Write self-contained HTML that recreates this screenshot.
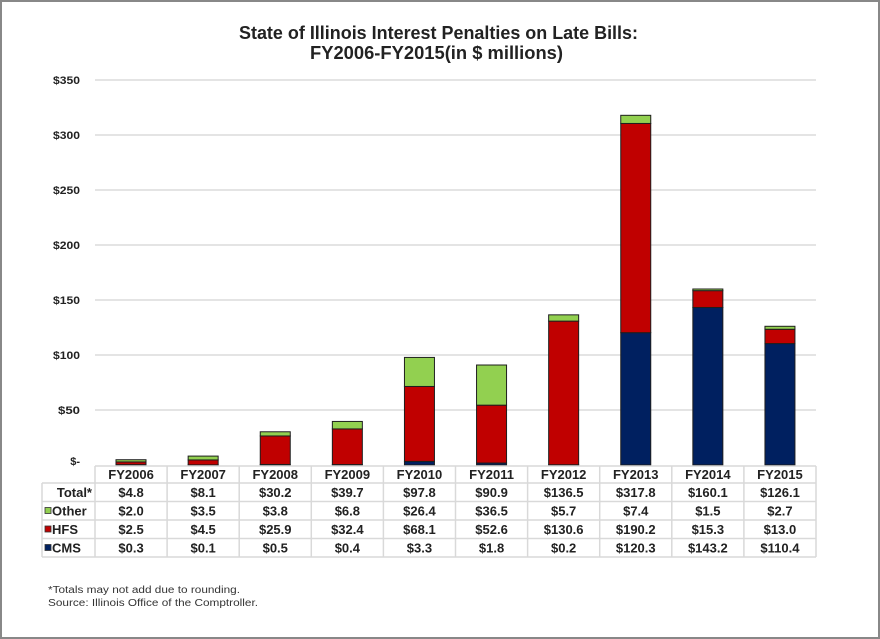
<!DOCTYPE html>
<html><head><meta charset="utf-8"><style>
html,body{margin:0;padding:0;background:#fff;}
svg{display:block;}
text{font-family:"Liberation Sans",Arial,sans-serif;}
</style></head><body>
<svg width="880" height="639" viewBox="0 0 880 639" xmlns="http://www.w3.org/2000/svg">
<rect x="0" y="0" width="880" height="639" fill="#fff"/>
<rect x="1" y="1" width="878" height="637" fill="none" stroke="#888" stroke-width="2"/>
<!-- title -->
<text x="239" y="39" font-size="18" font-weight="bold" fill="#222" textLength="399" lengthAdjust="spacingAndGlyphs">State of Illinois Interest Penalties on Late Bills:</text>
<text x="310" y="59" font-size="18" font-weight="bold" fill="#222" textLength="253" lengthAdjust="spacingAndGlyphs">FY2006-FY2015(in $ millions)</text>
<!-- gridlines -->
<g stroke="#dcdcdc" stroke-width="1.5">
<line x1="95" y1="80" x2="816" y2="80"/>
<line x1="95" y1="135" x2="816" y2="135"/>
<line x1="95" y1="190" x2="816" y2="190"/>
<line x1="95" y1="245" x2="816" y2="245"/>
<line x1="95" y1="300" x2="816" y2="300"/>
<line x1="95" y1="355" x2="816" y2="355"/>
<line x1="95" y1="410" x2="816" y2="410"/>
</g>
<!-- y labels -->
<g font-size="11" font-weight="bold" fill="#222" text-anchor="end">
<text x="80" y="84" textLength="27" lengthAdjust="spacingAndGlyphs">$350</text>
<text x="80" y="139" textLength="27" lengthAdjust="spacingAndGlyphs">$300</text>
<text x="80" y="194" textLength="27" lengthAdjust="spacingAndGlyphs">$250</text>
<text x="80" y="249" textLength="27" lengthAdjust="spacingAndGlyphs">$200</text>
<text x="80" y="304" textLength="27" lengthAdjust="spacingAndGlyphs">$150</text>
<text x="80" y="359" textLength="27" lengthAdjust="spacingAndGlyphs">$100</text>
<text x="80" y="414" textLength="22" lengthAdjust="spacingAndGlyphs">$50</text>
<text x="80" y="465">$-</text>
</g>
<!-- bars -->
<g stroke="#1e1e1e" stroke-width="1">
<!-- 2006 -->
<rect x="116" y="464.67" width="30" height="0.33" fill="#002060"/>
<rect x="116" y="461.92" width="30" height="2.75" fill="#c00000"/>
<rect x="116" y="459.72" width="30" height="2.2" fill="#92d050"/>
<!-- 2007 -->
<rect x="188.15" y="464.89" width="30" height="0.11" fill="#002060"/>
<rect x="188.15" y="459.94" width="30" height="4.95" fill="#c00000"/>
<rect x="188.15" y="456.09" width="30" height="3.85" fill="#92d050"/>
<!-- 2008 -->
<rect x="260.25" y="464.45" width="30" height="0.55" fill="#002060"/>
<rect x="260.25" y="435.96" width="30" height="28.49" fill="#c00000"/>
<rect x="260.25" y="431.78" width="30" height="4.18" fill="#92d050"/>
<!-- 2009 -->
<rect x="332.35" y="464.56" width="30" height="0.44" fill="#002060"/>
<rect x="332.35" y="428.92" width="30" height="35.64" fill="#c00000"/>
<rect x="332.35" y="421.44" width="30" height="7.48" fill="#92d050"/>
<!-- 2010 -->
<rect x="404.45" y="461.37" width="30" height="3.63" fill="#002060"/>
<rect x="404.45" y="386.46" width="30" height="74.91" fill="#c00000"/>
<rect x="404.45" y="357.42" width="30" height="29.04" fill="#92d050"/>
<!-- 2011 -->
<rect x="476.55" y="463.02" width="30" height="1.98" fill="#002060"/>
<rect x="476.55" y="405.16" width="30" height="57.86" fill="#c00000"/>
<rect x="476.55" y="365.01" width="30" height="40.15" fill="#92d050"/>
<!-- 2012 -->
<rect x="548.65" y="464.78" width="30" height="0.22" fill="#002060"/>
<rect x="548.65" y="321.12" width="30" height="143.66" fill="#c00000"/>
<rect x="548.65" y="314.85" width="30" height="6.27" fill="#92d050"/>
<!-- 2013 -->
<rect x="620.75" y="332.67" width="30" height="132.33" fill="#002060"/>
<rect x="620.75" y="123.45" width="30" height="209.22" fill="#c00000"/>
<rect x="620.75" y="115.31" width="30" height="8.14" fill="#92d050"/>
<!-- 2014 -->
<rect x="692.85" y="307.48" width="30" height="157.52" fill="#002060"/>
<rect x="692.85" y="290.65" width="30" height="16.83" fill="#c00000"/>
<rect x="692.85" y="289.0" width="30" height="1.65" fill="#92d050"/>
<!-- 2015 -->
<rect x="764.95" y="343.56" width="30" height="121.44" fill="#002060"/>
<rect x="764.95" y="329.26" width="30" height="14.3" fill="#c00000"/>
<rect x="764.95" y="326.29" width="30" height="2.97" fill="#92d050"/>
</g>
<!-- table grid -->
<g stroke="#d9d9d9" stroke-width="1.5">
<line x1="95" y1="466" x2="816" y2="466"/>
<line x1="42" y1="483" x2="816" y2="483"/>
<line x1="42" y1="501.5" x2="816" y2="501.5"/>
<line x1="42" y1="520" x2="816" y2="520"/>
<line x1="42" y1="538.5" x2="816" y2="538.5"/>
<line x1="42" y1="557" x2="816" y2="557"/>
<line x1="42" y1="483" x2="42" y2="557"/>
<line x1="95" y1="466" x2="95" y2="557"/>
<line x1="167.1" y1="466" x2="167.1" y2="557"/>
<line x1="239.2" y1="466" x2="239.2" y2="557"/>
<line x1="311.3" y1="466" x2="311.3" y2="557"/>
<line x1="383.4" y1="466" x2="383.4" y2="557"/>
<line x1="455.5" y1="466" x2="455.5" y2="557"/>
<line x1="527.6" y1="466" x2="527.6" y2="557"/>
<line x1="599.7" y1="466" x2="599.7" y2="557"/>
<line x1="671.8" y1="466" x2="671.8" y2="557"/>
<line x1="743.9" y1="466" x2="743.9" y2="557"/>
<line x1="816" y1="466" x2="816" y2="557"/>
</g>
<!-- row labels -->
<g font-size="13" font-weight="bold" fill="#222">
<text x="92" y="497" text-anchor="end">Total*</text>
<text x="52" y="515.5">Other</text>
<text x="52" y="534">HFS</text>
<text x="52" y="552.5">CMS</text>
</g>
<rect x="45" y="507.5" width="6" height="6" fill="#92d050" stroke="#333" stroke-width="0.8"/>
<rect x="45" y="526" width="6" height="6" fill="#c00000" stroke="#333" stroke-width="0.8"/>
<rect x="45" y="544.5" width="6" height="6" fill="#002060" stroke="#333" stroke-width="0.8"/>
<!-- table values -->
<g font-size="13" font-weight="bold" fill="#222" text-anchor="middle">
<text x="131.05" y="479">FY2006</text>
<text x="203.15" y="479">FY2007</text>
<text x="275.25" y="479">FY2008</text>
<text x="347.35" y="479">FY2009</text>
<text x="419.45" y="479">FY2010</text>
<text x="491.55" y="479">FY2011</text>
<text x="563.65" y="479">FY2012</text>
<text x="635.75" y="479">FY2013</text>
<text x="707.85" y="479">FY2014</text>
<text x="779.95" y="479">FY2015</text>

<text x="131.05" y="497">$4.8</text>
<text x="203.15" y="497">$8.1</text>
<text x="275.25" y="497">$30.2</text>
<text x="347.35" y="497">$39.7</text>
<text x="419.45" y="497">$97.8</text>
<text x="491.55" y="497">$90.9</text>
<text x="563.65" y="497">$136.5</text>
<text x="635.75" y="497">$317.8</text>
<text x="707.85" y="497">$160.1</text>
<text x="779.95" y="497">$126.1</text>

<text x="131.05" y="515.5">$2.0</text>
<text x="203.15" y="515.5">$3.5</text>
<text x="275.25" y="515.5">$3.8</text>
<text x="347.35" y="515.5">$6.8</text>
<text x="419.45" y="515.5">$26.4</text>
<text x="491.55" y="515.5">$36.5</text>
<text x="563.65" y="515.5">$5.7</text>
<text x="635.75" y="515.5">$7.4</text>
<text x="707.85" y="515.5">$1.5</text>
<text x="779.95" y="515.5">$2.7</text>

<text x="131.05" y="534">$2.5</text>
<text x="203.15" y="534">$4.5</text>
<text x="275.25" y="534">$25.9</text>
<text x="347.35" y="534">$32.4</text>
<text x="419.45" y="534">$68.1</text>
<text x="491.55" y="534">$52.6</text>
<text x="563.65" y="534">$130.6</text>
<text x="635.75" y="534">$190.2</text>
<text x="707.85" y="534">$15.3</text>
<text x="779.95" y="534">$13.0</text>

<text x="131.05" y="552.5">$0.3</text>
<text x="203.15" y="552.5">$0.1</text>
<text x="275.25" y="552.5">$0.5</text>
<text x="347.35" y="552.5">$0.4</text>
<text x="419.45" y="552.5">$3.3</text>
<text x="491.55" y="552.5">$1.8</text>
<text x="563.65" y="552.5">$0.2</text>
<text x="635.75" y="552.5">$120.3</text>
<text x="707.85" y="552.5">$143.2</text>
<text x="779.95" y="552.5">$110.4</text>
</g>
<!-- footnotes -->
<g font-size="10" fill="#333">
<text x="48" y="593" textLength="192" lengthAdjust="spacingAndGlyphs">*Totals may not add due to rounding.</text>
<text x="48" y="606" textLength="210" lengthAdjust="spacingAndGlyphs">Source: Illinois Office of the Comptroller.</text>
</g>
</svg>
</body></html>
